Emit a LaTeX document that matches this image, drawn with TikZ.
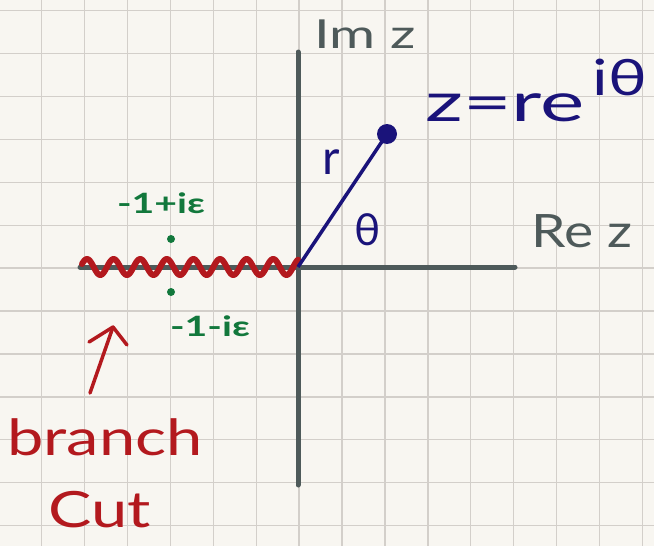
\documentclass[tikz,border=0pt]{standalone}
\usepackage{fontspec}
\setmainfont{Lato}
\definecolor{paper}{HTML}{F8F6F1}
\definecolor{gridc}{HTML}{D3CFCA}
\definecolor{axisc}{HTML}{4E5A5A}
\definecolor{bluec}{HTML}{1A137A}
\definecolor{greenc}{HTML}{12783C}
\definecolor{redc}{HTML}{B3191E}
\tikzset{
  axisline/.style={line width=5pt, axisc, line cap=round},
  txt/.style={inner sep=0pt, anchor=center},
}
\newcommand{\fs}[1]{\fontsize{#1}{#1}\selectfont}
\begin{document}
\begin{tikzpicture}[x=1pt,y=-1pt]
\fill[paper] (0,0) rectangle (654,546);
\useasboundingbox (0,0) rectangle (654,546);
% grid
\foreach \k in {-1,...,14} {
  \draw[gridc, line width=1.4pt] ({41.7+42.9*\k},0) -- ({41.7+42.9*\k},546);
}
\foreach \k in {0,...,12} {
  \draw[gridc, line width=1.4pt] (0,{10.7+42.9*\k}) -- (654,{10.7+42.9*\k});
}
% axes
\coordinate (O) at (298,267);
\coordinate (xl) at (80,267);
\coordinate (xr) at (515,267);
\coordinate (yt) at (298,52);
\coordinate (yb) at (298,485);
\draw[axisline] (xl) -- (xr);
\draw[axisline] (yt) -- (yb);
\node[txt, text=axisc, xscale=1.4] (im) at (365,34) {\fs{40}Im z};
\node[txt, text=axisc, xscale=1.2] (re) at (582,231) {\fs{46}Re z};
% branch cut
\draw[redc, line width=6pt, line cap=round, line join=round]
  plot[domain=82:298, samples=220, smooth] (\x, {267 - 8*cos((\x-87)/26.6*360)});
% point
\node[circle, fill=bluec, minimum size=20pt, inner sep=0pt] (z) at (387,134) {};
\draw[bluec, line width=3.5pt] (O) -- (z.center);
\node[txt, text=bluec, xscale=1.55] (zlab) at (505,108) {\fs{54}z=re};
\node[txt, text=bluec, xscale=1.3] (sup) at (620,77) {\fs{50}iθ};
\node[txt, text=bluec] (r) at (331,162) {\fs{48}r};
\node[txt, text=bluec] (th) at (368,230) {\fs{44}θ};
% green points
\node[circle, fill=greenc, minimum size=8pt, inner sep=0pt] (p1) at (171,239) {};
\node[circle, fill=greenc, minimum size=8pt, inner sep=0pt] (p2) at (171,292) {};
\node[txt, text=greenc, xscale=1.4] (l1) at (161,203) {\fs{28}\textbf{-1+iε}};
\node[txt, text=greenc, xscale=1.4] (l2) at (210,326) {\fs{28}\textbf{-1-iε}};
% arrow
\coordinate (a1) at (90,393);
\coordinate (a2) at (113,327);
\draw[redc, line width=3.5pt, line cap=round, line join=round] (a1) -- (a2);
\draw[redc, line width=3.5pt, line cap=round, line join=round] (89,342) -- (a2) -- (127,345);
\node[txt, text=redc, xscale=1.3] (br) at (105,437) {\fs{50}branch};
\node[txt, text=redc, xscale=1.3] (cut) at (100,510) {\fs{50}Cut};
\end{tikzpicture}
\end{document}
